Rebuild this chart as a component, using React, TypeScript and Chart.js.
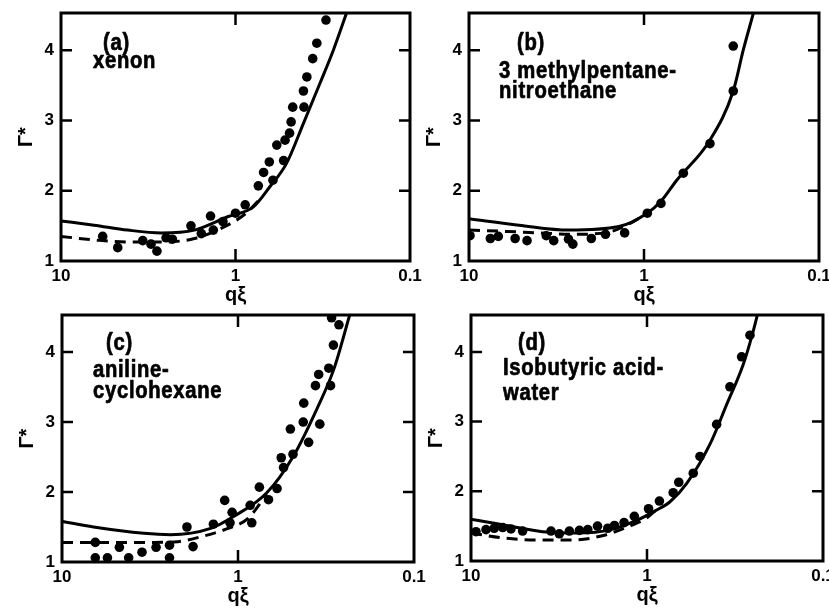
import React, { useEffect, useRef } from 'react';
import { Chart, registerables } from 'chart.js';

Chart.register(...registerables);

type Pair = [number, number];

// Shared axis ticks
const xTickValues = [10, 1, 0.1];
const yTickValues = [1, 2, 3, 4];
const yMin = 1;
const yMax = 4.53;

// (a) xenon
const xenonPoints: Pair[] = [
  [5.77, 1.35], [4.73, 1.19], [3.40, 1.29], [3.05, 1.24], [2.82, 1.14], [2.50, 1.33],
  [2.30, 1.31], [1.80, 1.50], [1.57, 1.39], [1.39, 1.64], [1.34, 1.44], [1.18, 1.56],
  [1.00, 1.68], [0.88, 1.80], [0.74, 2.07], [0.69, 2.26], [0.61, 2.15], [0.64, 2.41],
  [0.53, 2.43], [0.58, 2.65], [0.52, 2.72], [0.49, 2.82], [0.48, 2.98], [0.47, 3.19],
  [0.405, 3.19], [0.408, 3.42], [0.39, 3.62], [0.361, 3.88], [0.342, 4.10], [0.303, 4.43],
];
const xenonSolid: Pair[] = [
  [10, 1.57], [6.47, 1.51], [4.15, 1.44], [2.67, 1.40], [1.72, 1.44], [1.11, 1.63],
  [0.79, 1.77], [0.634, 2.06], [0.51, 2.39], [0.408, 2.96], [0.328, 3.53], [0.275, 4.0], [0.231, 4.53],
];
const xenonDashed: Pair[] = [
  [10, 1.35], [6.47, 1.30], [4.15, 1.27], [2.67, 1.27], [1.72, 1.32], [1.11, 1.51], [0.86, 1.69], [0.72, 1.89],
];

// (b) 3 methylpentane - nitroethane
const mpnePoints: Pair[] = [
  [9.87, 1.36], [7.55, 1.32], [6.8, 1.35], [5.45, 1.32], [4.66, 1.29], [3.62, 1.36],
  [3.28, 1.29], [2.70, 1.31], [2.55, 1.24], [2.0, 1.32], [1.66, 1.38], [1.29, 1.40],
  [0.957, 1.68], [0.80, 1.82], [0.596, 2.25], [0.42, 2.67], [0.309, 3.42], [0.309, 4.06],
];
const mpneSolid: Pair[] = [
  [10, 1.60], [5.18, 1.51], [2.68, 1.44], [1.39, 1.49], [0.96, 1.68], [0.80, 1.85],
  [0.65, 2.15], [0.42, 2.72], [0.309, 3.42], [0.271, 4.0], [0.237, 4.53],
];
const mpneDashed: Pair[] = [
  [10, 1.44], [6, 1.42], [4, 1.40], [2.5, 1.38], [1.6, 1.41], [1.15, 1.56], [0.96, 1.68],
];

// (c) aniline - cyclohexane
const anilinePoints: Pair[] = [
  [6.47, 1.28], [6.47, 1.06], [5.52, 1.06], [4.72, 1.21], [4.18, 1.06], [3.51, 1.14],
  [2.92, 1.21], [2.45, 1.06], [2.45, 1.24], [1.95, 1.50], [1.80, 1.22], [1.38, 1.54],
  [1.19, 1.88], [1.08, 1.71], [1.11, 1.56], [0.853, 1.81], [0.835, 1.56], [0.756, 2.07],
  [0.671, 1.89], [0.60, 2.05], [0.568, 2.49], [0.551, 2.35], [0.504, 2.90], [0.487, 2.54],
  [0.426, 3.00], [0.423, 3.27], [0.397, 2.71], [0.363, 3.52], [0.348, 3.68], [0.343, 2.97],
  [0.305, 3.77], [0.298, 3.52], [0.287, 4.10], [0.294, 4.49], [0.267, 4.39],
];
const anilineSolid: Pair[] = [
  [10, 1.58], [6.62, 1.50], [3.43, 1.41], [2.42, 1.39], [1.43, 1.48], [1.06, 1.65],
  [0.686, 1.99], [0.483, 2.52], [0.356, 3.19], [0.285, 3.76], [0.232, 4.53],
];
const anilineDashed: Pair[] = [
  [10, 1.28], [6, 1.28], [3, 1.28], [2.2, 1.29], [1.63, 1.36], [1.14, 1.48], [0.88, 1.62], [0.686, 1.97],
];

// (d) isobutyric acid - water
const ibawPoints: Pair[] = [
  [9.37, 1.42], [8.22, 1.45], [7.38, 1.47], [6.61, 1.48], [5.93, 1.46], [5.09, 1.43],
  [3.51, 1.43], [3.15, 1.39], [2.76, 1.43], [2.42, 1.44], [2.17, 1.45], [1.91, 1.50],
  [1.67, 1.47], [1.53, 1.51], [1.35, 1.55], [1.18, 1.64], [0.98, 1.75], [0.85, 1.86],
  [0.71, 1.98], [0.66, 2.13], [0.546, 2.26], [0.50, 2.50], [0.402, 2.96], [0.338, 3.50],
  [0.29, 3.93], [0.26, 4.24],
];
const ibawSolid: Pair[] = [
  [10, 1.60], [6.6, 1.52], [3.92, 1.42], [2.5, 1.40], [1.6, 1.45], [1.13, 1.59], [0.90, 1.72],
  [0.74, 1.85], [0.596, 2.11], [0.438, 2.68], [0.352, 3.25], [0.284, 3.82], [0.249, 4.30], [0.236, 4.53],
];
const ibawDashed: Pair[] = [
  [10, 1.40], [6.47, 1.33], [4.18, 1.30], [2.70, 1.30], [1.75, 1.37], [1.23, 1.51], [1.0, 1.62], [0.90, 1.72],
];

const PAGE_W = 829;
const PAGE_H = 609;
const Y_AXIS_W = 61;
const X_AXIS_H = 46;
const FONT = '"Liberation Sans", Arial, sans-serif';

type PanelSpec = {
  tag: string;
  lines: string[];
  points: Pair[];
  solid: Pair[];
  dashed: Pair[];
  area: { left: number; top: number; right: number; bottom: number };
  tagPos: [number, number];
  lineX: number;
  lineYs: number[];
};

const panels: PanelSpec[] = [
  {
    tag: '(a)', lines: ['xenon'],
    points: xenonPoints, solid: xenonSolid, dashed: xenonDashed,
    area: { left: 61, top: 13, right: 410, bottom: 261 },
    tagPos: [42, 37], lineX: 32, lineYs: [55],
  },
  {
    tag: '(b)', lines: ['3 methylpentane-', 'nitroethane'],
    points: mpnePoints, solid: mpneSolid, dashed: mpneDashed,
    area: { left: 469, top: 13, right: 819, bottom: 261 },
    tagPos: [48, 37], lineX: 30, lineYs: [65, 85],
  },
  {
    tag: '(c)', lines: ['aniline-', 'cyclohexane'],
    points: anilinePoints, solid: anilineSolid, dashed: anilineDashed,
    area: { left: 62, top: 315, right: 414, bottom: 562 },
    tagPos: [44, 35], lineX: 31, lineYs: [62, 83],
  },
  {
    tag: '(d)', lines: ['Isobutyric acid-', 'water'],
    points: ibawPoints, solid: ibawSolid, dashed: ibawDashed,
    area: { left: 471, top: 315, right: 823, bottom: 561 },
    tagPos: [47, 35], lineX: 32, lineYs: [60, 85],
  },
];

const toXY = (arr: Pair[]) => arr.map(([x, y]) => ({ x, y }));

// Thick frame with inward tick marks on all four sides
const framePlugin = {
  id: 'frame',
  afterDatasetsDraw(chart: any) {
    const { ctx, chartArea } = chart;
    const { left, top, right, bottom } = chartArea;
    const xs = chart.scales.x;
    const ys = chart.scales.y;
    ctx.save();
    ctx.strokeStyle = '#000';
    ctx.lineWidth = 3;
    ctx.strokeRect(left, top, right - left, bottom - top);
    ctx.lineWidth = 2.5;
    ctx.beginPath();
    xTickValues.filter((v) => v > 0.1 && v < 10).forEach((v) => {
      const px = xs.getPixelForValue(v);
      ctx.moveTo(px, bottom);
      ctx.lineTo(px, bottom - 12);
      ctx.moveTo(px, top);
      ctx.lineTo(px, top + 12);
    });
    yTickValues.filter((v) => v > yMin && v < yMax).forEach((v) => {
      const py = ys.getPixelForValue(v);
      ctx.moveTo(left, py);
      ctx.lineTo(left + 11, py);
      ctx.moveTo(right, py);
      ctx.lineTo(right - 11, py);
    });
    ctx.stroke();
    ctx.restore();
  },
};

// Panel tag and system name written inside the plot
const makeLabelPlugin = (spec: PanelSpec) => ({
  id: 'panelText',
  afterDraw(chart: any) {
    const { ctx, chartArea } = chart;
    const { left, top } = chartArea;
    ctx.save();
    ctx.fillStyle = '#000';
    ctx.strokeStyle = '#000';
    ctx.lineWidth = 0.7;
    ctx.lineJoin = 'round';
    ctx.font = `bold 23px ${FONT}`;
    ctx.textBaseline = 'alphabetic';
    ctx.textAlign = 'left';
    (ctx as any).letterSpacing = '0.8px';
    const put = (text: string, x: number, y: number) => {
      ctx.save();
      ctx.translate(x, y);
      ctx.scale(0.88, 1);
      ctx.fillText(text, 0, 0);
      ctx.strokeText(text, 0, 0);
      ctx.restore();
    };
    put(spec.tag, left + spec.tagPos[0], top + spec.tagPos[1]);
    spec.lines.forEach((line, i) => put(line, left + spec.lineX, top + spec.lineYs[i]));
    ctx.restore();
  },
});

function Panel({ spec }: { spec: PanelSpec }) {
  const ref = useRef<HTMLCanvasElement | null>(null);

  useEffect(() => {
    const canvas = ref.current;
    if (!canvas) return;
    const a = spec.area;
    const tickFont = { family: FONT, size: 17, weight: 'bold' as const };
    const titleFont = { family: FONT, size: 20, weight: 'bold' as const };
    const chart = new Chart(canvas, {
      type: 'line',
      data: {
        datasets: [
          {
            data: toXY(spec.solid) as any,
            borderColor: '#000',
            borderWidth: 3,
            pointRadius: 0,
            fill: false,
            cubicInterpolationMode: 'monotone',
          },
          {
            data: toXY(spec.dashed) as any,
            borderColor: '#000',
            borderWidth: 3,
            borderDash: [11, 7],
            pointRadius: 0,
            fill: false,
            cubicInterpolationMode: 'monotone',
          },
          {
            type: 'scatter',
            data: toXY(spec.points) as any,
            backgroundColor: '#000',
            borderWidth: 0,
            pointRadius: 4.8,
            showLine: false,
          } as any,
        ],
      },
      options: {
        animation: false,
        responsive: false,
        devicePixelRatio: 1,
        events: [],
        layout: {
          padding: {
            left: a.left - Y_AXIS_W,
            top: a.top,
            right: PAGE_W - a.right,
            bottom: PAGE_H - a.bottom - X_AXIS_H,
          },
        },
        plugins: {
          legend: { display: false },
          tooltip: { enabled: false },
        },
        scales: {
          x: {
            type: 'logarithmic',
            reverse: true,
            min: 0.1,
            max: 10,
            position: 'bottom',
            afterBuildTicks: (s: any) => {
              s.ticks = xTickValues.map((v) => ({ value: v }));
            },
            afterFit: (s: any) => {
              s.height = X_AXIS_H;
              s.paddingLeft = 0;
              s.paddingRight = 0;
            },
            grid: { display: false, drawTicks: false },
            border: { display: false },
            ticks: {
              autoSkip: false,
              maxRotation: 0,
              padding: 5,
              color: '#000',
              font: tickFont,
              callback: (v: any) => String(v),
            },
            title: { display: true, text: 'qξ', color: '#000', font: titleFont, padding: 0 },
          },
          y: {
            type: 'linear',
            min: yMin,
            max: yMax,
            afterBuildTicks: (s: any) => {
              s.ticks = yTickValues.map((v) => ({ value: v }));
            },
            afterFit: (s: any) => {
              s.width = Y_AXIS_W;
              s.paddingTop = 0;
              s.paddingBottom = 0;
            },
            grid: { display: false, drawTicks: false },
            border: { display: false },
            ticks: {
              padding: 7,
              color: '#000',
              font: tickFont,
              callback: (v: any) => String(v),
            },
            title: { display: true, text: 'Γ*', color: '#000', font: titleFont, padding: { top: 14, bottom: 0 } },
          },
        },
      } as any,
      plugins: [framePlugin, makeLabelPlugin(spec)],
    });
    return () => chart.destroy();
  }, [spec]);

  return (
    <canvas
      ref={ref}
      width={PAGE_W}
      height={PAGE_H}
      style={{ position: 'absolute', left: 0, top: 0, width: PAGE_W, height: PAGE_H }}
    />
  );
}

export default function App() {
  return (
    <div
      style={{
        position: 'absolute',
        left: 0,
        top: 0,
        width: PAGE_W,
        height: PAGE_H,
        background: '#fff',
        overflow: 'hidden',
      }}
    >
      {panels.map((p) => (
        <Panel key={p.tag} spec={p} />
      ))}
    </div>
  );
}
